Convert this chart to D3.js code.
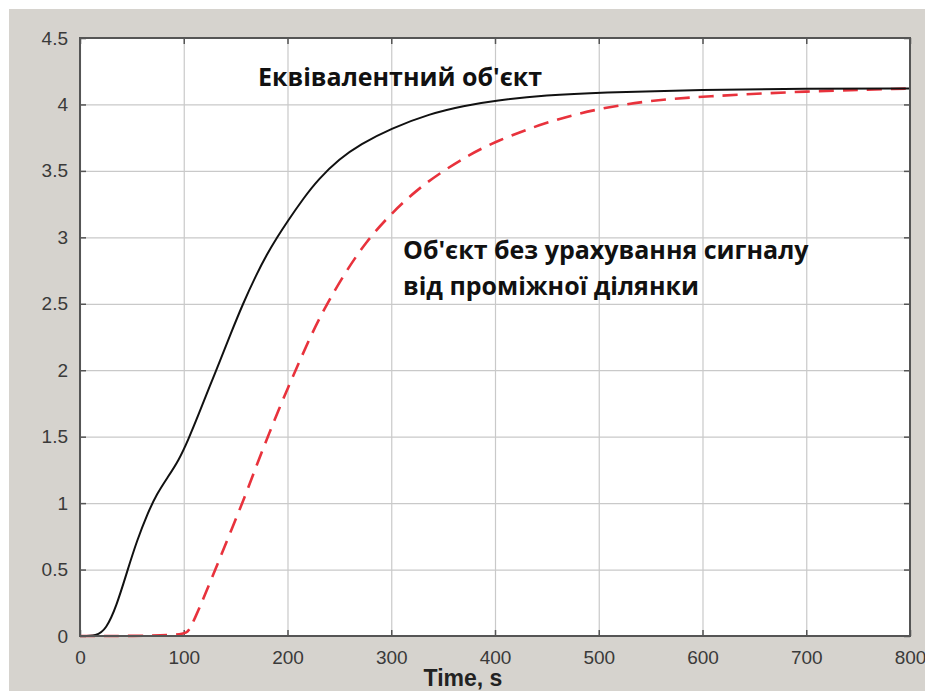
<!DOCTYPE html>
<html>
<head>
<meta charset="utf-8">
<script src="https://cdn.jsdelivr.net/npm/d3@7"></script>
<style>
  body { margin: 0; background: #fff; }
  svg { display: block; }
</style>
</head>
<body>
<div id="chart"></div>
<script>
// data
const timeEquiv = [0, 16, 25, 35, 46, 55, 65, 74, 85, 95, 104, 115, 125, 135, 145, 157, 170, 180, 190, 200, 215, 230, 250, 270, 300, 337, 370, 400, 450, 500, 600, 700, 800];
const valEquiv  = [0, 0, 0.05, 0.22, 0.5, 0.72, 0.92, 1.07, 1.2, 1.32, 1.47, 1.68, 1.88, 2.07, 2.27, 2.5, 2.72, 2.87, 3.0, 3.12, 3.29, 3.44, 3.59, 3.7, 3.82, 3.93, 3.99, 4.03, 4.07, 4.09, 4.11, 4.12, 4.12];

const timeNoSig = [0, 100, 105, 110, 120, 133, 146, 159, 170, 181, 193, 200, 209, 223, 238, 256, 276, 300, 325, 350, 375, 400, 450, 500, 550, 600, 700, 800];
const valNoSig  = [0, 0, 0.04, 0.12, 0.3, 0.55, 0.8, 1.05, 1.28, 1.5, 1.73, 1.86, 2.02, 2.27, 2.5, 2.74, 2.97, 3.18, 3.36, 3.5, 3.62, 3.72, 3.87, 3.97, 4.03, 4.06, 4.1, 4.12];

const xTicks = [0, 100, 200, 300, 400, 500, 600, 700, 800];
const yTicks = [0, 0.5, 1, 1.5, 2, 2.5, 3, 3.5, 4, 4.5];

const labelEquiv = "Еквівалентний об'єкт";
const labelNoSig = ["Об'єкт без урахування сигналу", "від проміжної ділянки"];
const xTitle = "Time, s";

const width = 925;
const height = 691;
const margin = { top: 38, right: 15, bottom: 55, left: 80 };

const svg = d3.select("#chart")
  .append("svg")
  .attr("width", width)
  .attr("height", height)

// grey figure background
svg.append("rect")
  .attr("x", 9).attr("y", 9)
  .attr("width", width - 9).attr("height", height - 9)
  .attr("fill", "#d6d3ce")

const xScale = d3.scaleLinear()
  .domain([0, 800])
  .range([margin.left, width - margin.right])

const yScale = d3.scaleLinear()
  .domain([0, 4.5])
  .range([height - margin.bottom, margin.top])

const plotW = xScale(800) - xScale(0);
const plotH = yScale(0) - yScale(4.5);

svg.append("rect")
  .attr("x", xScale(0)).attr("y", yScale(4.5))
  .attr("width", plotW).attr("height", plotH)
  .attr("fill", "#fff")

// grid
svg.append("g")
  .attr("class", "grid")
  .attr("transform", `translate(0, ${yScale(0)})`)
  .call(d3.axisBottom(xScale).tickValues(xTicks).tickSize(-plotH).tickFormat(""))

svg.append("g")
  .attr("class", "grid")
  .attr("transform", `translate(${xScale(0)}, 0)`)
  .call(d3.axisLeft(yScale).tickValues(yTicks).tickSize(-plotW).tickFormat(""))

svg.selectAll(".grid line").attr("stroke", "#c9c9c9").attr("stroke-width", 1.2)

// axes with inward ticks
const fmt = d3.format("~g");
const xAxis = svg.append("g")
  .attr("class", "ax")
  .attr("transform", `translate(0, ${yScale(0)})`)
  .call(d3.axisBottom(xScale).tickValues(xTicks).tickSize(-6).tickPadding(15).tickFormat(fmt))

const yAxis = svg.append("g")
  .attr("class", "ax")
  .attr("transform", `translate(${xScale(0)}, 0)`)
  .call(d3.axisLeft(yScale).tickValues(yTicks).tickSize(-6).tickPadding(12).tickFormat(fmt))

svg.append("g")
  .attr("class", "ax")
  .attr("transform", `translate(0, ${yScale(4.5)})`)
  .call(d3.axisTop(xScale).tickValues(xTicks).tickSize(-6).tickFormat(""))

svg.append("g")
  .attr("class", "ax")
  .attr("transform", `translate(${xScale(800)}, 0)`)
  .call(d3.axisRight(yScale).tickValues(yTicks).tickSize(-6).tickFormat(""))

svg.selectAll(".ax .tick line").attr("stroke", "#555").attr("stroke-width", 1.5)
svg.selectAll(".domain").remove()

;[xAxis, yAxis].forEach(a => a.selectAll("text")
  .attr("font-family", "Liberation Sans, Arial, sans-serif")
  .attr("font-size", 19)
  .attr("fill", "#3a3a3a"))

// lines
const line = d3.line()
  .x(d => xScale(d[0]))
  .y(d => yScale(d[1]))
  .curve(d3.curveBasis)

svg.append("path")
  .datum(timeNoSig.map((t, i) => [t, valNoSig[i]]))
  .attr("d", line)
  .attr("fill", "none")
  .attr("stroke", "#e8323c")
  .attr("stroke-width", 2.6)
  .attr("stroke-dasharray", "15,9")

svg.append("path")
  .datum(timeEquiv.map((t, i) => [t, valEquiv[i]]))
  .attr("d", line)
  .attr("fill", "none")
  .attr("stroke", "#111")
  .attr("stroke-width", 2)

// frame
svg.append("rect")
  .attr("x", xScale(0)).attr("y", yScale(4.5))
  .attr("width", plotW).attr("height", plotH)
  .attr("fill", "none")
  .attr("stroke", "#555")
  .attr("stroke-width", 2)

// annotations
const noteFont = "Open Sans, Noto Sans, sans-serif";
svg.append("text")
  .attr("x", 258).attr("y", 86)
  .attr("font-family", noteFont)
  .attr("font-weight", "bold")
  .attr("font-size", 25)
  .attr("fill", "#111")
  .text(labelEquiv)

svg.append("text")
  .attr("font-family", noteFont)
  .attr("font-weight", "bold")
  .attr("font-size", 25)
  .attr("fill", "#111")
  .selectAll("tspan")
  .data(labelNoSig)
  .join("tspan")
  .attr("x", 403)
  .attr("y", (d, i) => 259 + i * 36)
  .text(d => d)

svg.append("text")
  .attr("x", 463).attr("y", 686)
  .attr("text-anchor", "middle")
  .attr("font-family", "Liberation Sans, Arial, sans-serif")
  .attr("font-weight", "bold")
  .attr("font-size", 23)
  .attr("fill", "#222")
  .text(xTitle)
</script>
</body>
</html>
